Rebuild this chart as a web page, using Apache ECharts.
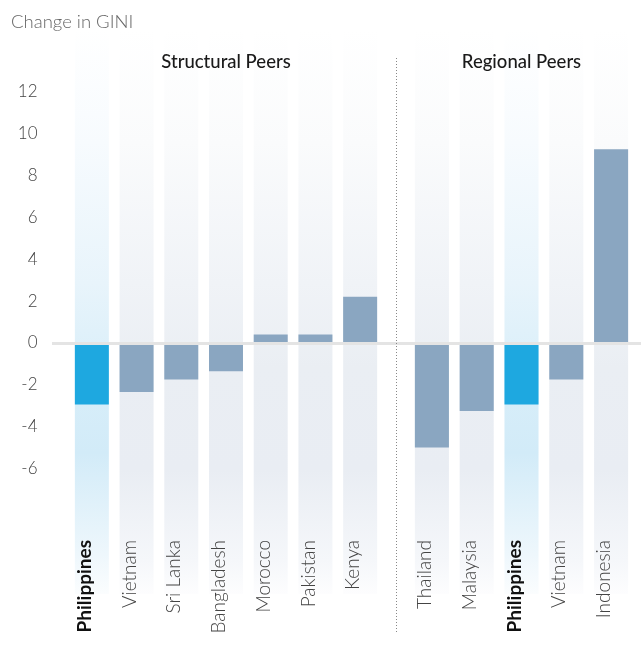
<!DOCTYPE html>
<html>
<head>
<meta charset="utf-8">
<title>Change in GINI</title>
<script src="https://cdn.jsdelivr.net/npm/echarts@6/dist/echarts.min.js"></script>
<style>
  html, body { margin: 0; padding: 0; background: #fff; }
  #chart { width: 644px; height: 667px; }
</style>
</head>
<body>
<div id="chart"></div>
<script>
// data
const structuralPeers = ['Philippines', 'Vietnam', 'Sri Lanka', 'Bangladesh', 'Morocco', 'Pakistan', 'Kenya']
const structuralValues = [-2.95, -2.35, -1.75, -1.35, 0.4, 0.4, 2.2]
const regionalPeers = ['Thailand', 'Malaysia', 'Philippines', 'Vietnam', 'Indonesia']
const regionalValues = [-5.0, -3.25, -2.95, -1.75, 9.25]
const groupTitles = ['Structural Peers', 'Regional Peers']
const highlight = 'Philippines'
const yMin = -12
const yMax = 15
const yTickLabels = [-6, -4, -2, 0, 2, 4, 6, 8, 10, 12]

const font = 'Lato, "Noto Sans", sans-serif'
const barGrey = '#8aa6c1'
const barBlue = '#1ea8e0'

const greyStops = [
  { offset: 0, color: '#ffffff' },
  { offset: 0.2, color: '#fafbfc' },
  { offset: 0.45, color: '#f0f3f7' },
  { offset: 0.6, color: '#eaeef3' },
  { offset: 0.78, color: '#e9edf3' },
  { offset: 0.94, color: '#f5f7fa' },
  { offset: 1, color: '#fdfdfe' }
]
const blueStops = [
  { offset: 0, color: '#ffffff' },
  { offset: 0.2, color: '#f7fbfe' },
  { offset: 0.45, color: '#e8f4fb' },
  { offset: 0.62, color: '#d8eef9' },
  { offset: 0.75, color: '#d2ebf8' },
  { offset: 0.93, color: '#eef7fc' },
  { offset: 1, color: '#fbfdfe' }
]

const grids = [
  { left: 69.5, width: 313, top: 29, height: 565 },
  { left: 409.5, width: 224, top: 29, height: 565 }
]

function xAxisFor (cats, idx) {
  return {
    type: 'category',
    gridIndex: idx,
    data: cats,
    position: 'bottom',
    z: 10,
    axisLine: { show: false },
    axisTick: { show: false },
    axisLabel: {
      rotate: 90,
      margin: -54,
      interval: 0,
      hideOverlap: false,
      fontFamily: font,
      fontSize: 19,
      fontWeight: 300,
      color: '#444',
      padding: [0, 0, 14, 0],
      formatter: v => v === highlight ? `{hl|${v}}` : v,
      rich: {
        hl: { fontFamily: font, fontSize: 19, fontWeight: 'bold', color: '#111' }
      }
    }
  }
}

function yAxisFor (idx) {
  return {
    type: 'value',
    gridIndex: idx,
    min: yMin,
    max: yMax,
    interval: 2,
    splitLine: { show: false },
    axisLine: { show: false },
    axisTick: { show: false },
    axisLabel: {
      show: idx === 0,
      margin: 32,
      padding: [4, 0, 0, 0],
      fontFamily: font,
      fontSize: 17,
      fontWeight: 300,
      color: '#444',
      formatter: v => yTickLabels.includes(v) ? String(v) : ''
    }
  }
}

function columnSeries (cats, idx) {
  return {
    type: 'custom',
    xAxisIndex: idx,
    yAxisIndex: idx,
    silent: true,
    z: 1,
    data: cats.map(c => [c, yMax]),
    renderItem: (params, api) => {
      const i = api.value(0)
      const top = api.coord([i, yMax])
      const bottom = api.coord([i, yMin])
      const w = api.size([1, 0])[0] * 0.76
      const name = cats[params.dataIndex]
      return {
        type: 'rect',
        shape: { x: top[0] - w / 2, y: top[1], width: w, height: bottom[1] - top[1] },
        style: {
          fill: new echarts.graphic.LinearGradient(0, 0, 0, 1, name === highlight ? blueStops : greyStops)
        }
      }
    }
  }
}

function barSeries (values, idx) {
  return {
    type: 'bar',
    xAxisIndex: idx,
    yAxisIndex: idx,
    data: values,
    barWidth: '76%',
    itemStyle: {
      color: p => p.name === highlight ? barBlue : barGrey
    }
  }
}

const chart = echarts.init(document.getElementById('chart'))

const titleStyle = { fontFamily: font, fontSize: 18.5, fontWeight: 500, color: '#1a1a1a' }

const option = {
  animation: false,
  title: [
    {
      text: 'Change in GINI',
      left: 11,
      top: 13,
      padding: 0,
      textStyle: { fontFamily: font, fontSize: 18.5, fontWeight: 300, color: '#666' }
    },
    {
      text: groupTitles[0],
      left: grids[0].left + grids[0].width / 2,
      textAlign: 'center',
      top: 53,
      padding: 0,
      textStyle: titleStyle
    },
    {
      text: groupTitles[1],
      left: grids[1].left + grids[1].width / 2,
      textAlign: 'center',
      top: 53,
      padding: 0,
      textStyle: titleStyle
    }
  ],
  grid: grids,
  xAxis: [xAxisFor(structuralPeers, 0), xAxisFor(regionalPeers, 1)],
  yAxis: [yAxisFor(0), yAxisFor(1)],
  series: [
    columnSeries(structuralPeers, 0),
    columnSeries(regionalPeers, 1),
    barSeries(structuralValues, 0),
    barSeries(regionalValues, 1)
  ]
}

chart.setOption(option)

// zero line across both panels and the dotted divider
const zeroY = chart.convertToPixel({ yAxisIndex: 0 }, 0)
chart.setOption({
  graphic: [
    {
      type: 'line',
      z: 100,
      silent: true,
      shape: { x1: 52, y1: zeroY + 0.5, x2: 641, y2: zeroY + 0.5 },
      style: { stroke: '#e4e4e4', lineWidth: 3 }
    },
    {
      type: 'line',
      z: 100,
      silent: true,
      shape: { x1: 396.5, y1: 58, x2: 396.5, y2: 634 },
      style: { stroke: '#888', lineWidth: 1, lineDash: [1, 2] }
    }
  ]
})
</script>
</body>
</html>
